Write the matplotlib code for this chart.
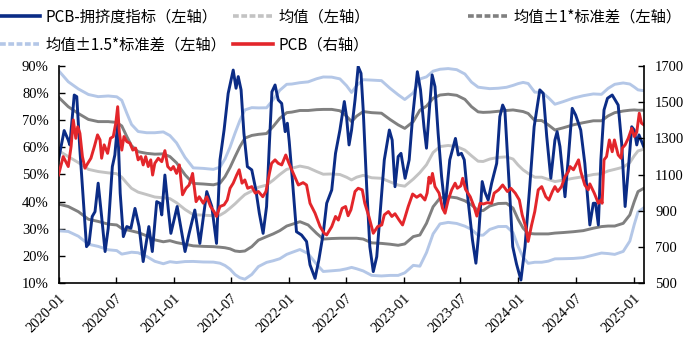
import matplotlib
matplotlib.use('Agg')
import matplotlib.pyplot as plt
from matplotlib.lines import Line2D
from matplotlib.font_manager import FontProperties
import numpy as np
import pandas as pd

plt.rcParams['font.family'] = ['Liberation Serif', 'DejaVu Serif']

# ---------------- data ----------------
crowd_dates = [
    '2020-01-01', '2020-01-19', '2020-02-01', '2020-02-06', '2020-02-20', '2020-02-28', '2020-03-09', '2020-03-20',
    '2020-03-30', '2020-04-07', '2020-04-17', '2020-04-26', '2020-05-06', '2020-05-17', '2020-05-28', '2020-06-07',
    '2020-06-20', '2020-06-28', '2020-07-07', '2020-07-15', '2020-07-25', '2020-08-05', '2020-08-18', '2020-08-31',
    '2020-09-13', '2020-09-26', '2020-10-07', '2020-10-14', '2020-10-25', '2020-11-08', '2020-11-18', '2020-11-24',
    '2020-12-04', '2020-12-15', '2020-12-23', '2021-01-12', '2021-02-06', '2021-02-19', '2021-03-09', '2021-03-25',
    '2021-04-16', '2021-05-02', '2021-05-17', '2021-05-28', '2021-06-10', '2021-06-23', '2021-07-09', '2021-07-18',
    '2021-07-25', '2021-08-03', '2021-08-12', '2021-08-23', '2021-09-06', '2021-09-19', '2021-09-30', '2021-10-12',
    '2021-10-23', '2021-11-01', '2021-11-09', '2021-11-19', '2021-11-29', '2021-12-10', '2021-12-21', '2021-12-28',
    '2022-01-03', '2022-01-13', '2022-01-26', '2022-02-11', '2022-02-27', '2022-03-10', '2022-03-26', '2022-04-07',
    '2022-04-21', '2022-05-02', '2022-05-18', '2022-05-30', '2022-06-13', '2022-06-27', '2022-07-04', '2022-07-12',
    '2022-07-20', '2022-07-31', '2022-08-10', '2022-08-19', '2022-08-26', '2022-09-06', '2022-09-16', '2022-09-27',
    '2022-10-08', '2022-10-18', '2022-11-01', '2022-11-17', '2022-11-26', '2022-12-05', '2022-12-15', '2022-12-24',
    '2023-01-06', '2023-01-19', '2023-01-30', '2023-02-14', '2023-02-24', '2023-03-07', '2023-03-15', '2023-03-24',
    '2023-04-02', '2023-04-11', '2023-04-21', '2023-05-02', '2023-05-13', '2023-05-28', '2023-06-15', '2023-06-24',
    '2023-07-04', '2023-07-13', '2023-07-25', '2023-08-08', '2023-08-19', '2023-08-28', '2023-09-08', '2023-09-16',
    '2023-09-27', '2023-10-08', '2023-10-24', '2023-11-03', '2023-11-12', '2023-11-19', '2023-11-30', '2023-12-14',
    '2023-12-26', '2024-01-09', '2024-01-22', '2024-02-06', '2024-02-20', '2024-03-09', '2024-03-20', '2024-03-31',
    '2024-04-13', '2024-04-26', '2024-05-03', '2024-05-12', '2024-05-28', '2024-06-08', '2024-06-20', '2024-07-01',
    '2024-07-17', '2024-07-30', '2024-08-15', '2024-08-26', '2024-09-02', '2024-09-11', '2024-09-19', '2024-09-29',
    '2024-10-10', '2024-10-25', '2024-11-13', '2024-11-24', '2024-12-05', '2024-12-15', '2024-12-26', '2025-01-03',
    '2025-01-11', '2025-01-18', '2025-02-02',
]
crowd_values = [
    55.4, 66.2, 62.7, 60.9, 79.3, 78.7, 59.0, 40.6,
    23.4, 24.6, 34.5, 36.3, 46.8, 34.5, 21.6, 30.2,
    52.9, 57.2, 68.9, 43.1, 27.1, 30.8, 30.2, 37.5,
    30.8, 17.9, 25.9, 30.8, 21.6, 40.0, 39.4, 35.1,
    49.8, 36.9, 28.3, 38.2, 21.6, 28.3, 36.9, 24.6,
    43.7, 38.2, 24.6, 55.4, 66.4, 79.9, 88.5, 81.8,
    86.1, 81.2, 65.2, 52.9, 51.7, 44.3, 35.7, 28.3,
    38.2, 61.5, 80.5, 83.0, 77.5, 76.2, 65.8, 68.9,
    62.1, 48.0, 28.9, 27.7, 25.3, 16.7, 11.7, 18.5,
    28.3, 39.4, 44.3, 57.8, 66.4, 76.9, 71.3, 60.9,
    66.4, 77.5, 89.8, 87.3, 73.8, 45.5, 23.4, 14.2,
    19.7, 34.5, 55.4, 66.4, 62.7, 45.5, 56.6, 57.8,
    48.6, 55.4, 71.3, 87.9, 81.2, 67.6, 59.7, 73.8,
    86.7, 82.4, 65.2, 49.2, 37.5, 55.4, 63.3, 57.2,
    57.8, 55.4, 40.6, 25.9, 17.3, 28.3, 47.4, 43.7,
    40.6, 46.8, 54.1, 71.3, 75.6, 73.8, 51.7, 23.4,
    17.0, 11.1, 23.4, 45.5, 67.6, 81.2, 79.9, 64.0,
    48.6, 62.7, 65.8, 60.3, 41.8, 56.6, 74.4, 71.9,
    66.4, 54.1, 31.4, 39.4, 39.4, 31.4, 55.4, 73.8,
    78.1, 79.3, 75.6, 61.5, 38.2, 51.7, 67.6, 66.4,
    60.9, 64.6, 60.3,
]

pcb_dates = [
    '2020-01-01', '2020-01-16', '2020-02-01', '2020-02-10', '2020-02-17', '2020-02-25', '2020-03-02', '2020-03-09',
    '2020-03-17', '2020-03-25', '2020-04-03', '2020-04-13', '2020-04-24', '2020-05-04', '2020-05-12', '2020-05-17',
    '2020-05-25', '2020-06-05', '2020-06-14', '2020-06-23', '2020-07-01', '2020-07-07', '2020-07-12', '2020-07-20',
    '2020-07-27', '2020-08-05', '2020-08-15', '2020-08-24', '2020-09-02', '2020-09-10', '2020-09-19', '2020-09-26',
    '2020-10-04', '2020-10-12', '2020-10-20', '2020-10-26', '2020-11-02', '2020-11-13', '2020-11-24', '2020-12-04',
    '2020-12-13', '2020-12-23', '2020-12-31', '2021-01-10', '2021-01-19', '2021-01-29', '2021-02-09', '2021-02-19',
    '2021-03-02', '2021-03-13', '2021-03-23', '2021-04-05', '2021-04-16', '2021-04-28', '2021-05-09', '2021-05-17',
    '2021-05-28', '2021-06-10', '2021-06-20', '2021-06-29', '2021-07-09', '2021-07-20', '2021-07-28', '2021-08-06',
    '2021-08-15', '2021-08-24', '2021-09-06', '2021-09-17', '2021-09-27', '2021-10-11', '2021-10-21', '2021-11-01',
    '2021-11-08', '2021-11-19', '2021-11-29', '2021-12-10', '2021-12-23', '2022-01-02', '2022-01-16', '2022-02-01',
    '2022-02-16', '2022-02-27', '2022-03-10', '2022-03-26', '2022-04-11', '2022-04-24', '2022-05-02', '2022-05-18',
    '2022-05-30', '2022-06-08', '2022-06-20', '2022-07-01', '2022-07-09', '2022-07-18', '2022-07-31', '2022-08-10',
    '2022-08-23', '2022-08-31', '2022-09-13', '2022-09-27', '2022-10-11', '2022-10-24', '2022-11-01', '2022-11-14',
    '2022-11-25', '2022-12-05', '2022-12-18', '2022-12-29', '2023-01-05', '2023-01-16', '2023-01-30', '2023-02-12',
    '2023-02-24', '2023-03-10', '2023-03-17', '2023-03-23', '2023-03-28', '2023-04-03', '2023-04-11', '2023-04-24',
    '2023-05-05', '2023-05-13', '2023-05-23', '2023-06-03', '2023-06-14', '2023-06-21', '2023-07-02', '2023-07-08',
    '2023-07-17', '2023-08-01', '2023-08-13', '2023-08-22', '2023-09-01', '2023-09-12', '2023-09-24', '2023-10-08',
    '2023-10-16', '2023-10-30', '2023-11-12', '2023-11-27', '2023-12-08', '2023-12-22', '2024-01-04', '2024-01-13',
    '2024-01-24', '2024-02-01', '2024-02-12', '2024-02-22', '2024-03-04', '2024-03-15', '2024-03-28', '2024-04-07',
    '2024-04-18', '2024-04-26', '2024-05-05', '2024-05-17', '2024-05-28', '2024-06-08', '2024-06-13', '2024-06-24',
    '2024-07-10', '2024-07-17', '2024-07-30', '2024-08-10', '2024-08-15', '2024-08-29', '2024-09-11', '2024-09-19',
    '2024-09-23', '2024-09-29', '2024-10-07', '2024-10-16', '2024-10-25', '2024-11-01', '2024-11-13', '2024-11-22',
    '2024-11-26', '2024-12-05', '2024-12-15', '2024-12-26', '2025-01-03', '2025-01-11', '2025-01-19', '2025-01-26',
    '2025-02-02',
]
pcb_values = [
    1097, 1199, 1144, 1255, 1402, 1300, 1364, 1328,
    1199, 1135, 1162, 1190, 1255, 1319, 1291, 1190,
    1264, 1217, 1300, 1310, 1384, 1475, 1337, 1235,
    1310, 1282, 1273, 1235, 1246, 1181, 1199, 1153,
    1199, 1144, 1181, 1097, 1162, 1190, 1171, 1232,
    1144, 1126, 1144, 1106, 1153, 988, 1024, 1042,
    1106, 950, 977, 941, 977, 923, 895, 868,
    923, 932, 959, 1024, 1052, 1097, 1126, 1052,
    1070, 1024, 1033, 997, 1006, 977, 1006, 1106,
    1162, 1181, 1162, 1153, 1208, 1162, 1106, 1042,
    1055, 1042, 941, 886, 812, 775, 766, 812,
    868, 848, 913, 923, 872, 905, 1006, 1024,
    1015, 941, 868, 775, 812, 821, 877, 895,
    868, 883, 848, 821, 859, 923, 992, 974,
    988, 959, 997, 1085, 1052, 1106, 1033, 997,
    913, 886, 959, 1015, 1052, 1024, 1037, 1079,
    1018, 977, 923, 870, 941, 937, 944, 941,
    997, 1015, 1042, 1006, 1024, 997, 959, 877,
    812, 730, 821, 895, 1015, 1033, 977, 959,
    1006, 1033, 1006, 1033, 1088, 1117, 1144, 1126,
    1181, 1117, 1042, 1015, 1048, 997, 941, 959,
    941, 1181, 1199, 1291, 1226, 1291, 1208, 1190,
    1246, 1264, 1300, 1355, 1310, 1334, 1439, 1384,
    1375,
]

band_dates = [
    '2020-01-01', '2020-02-01', '2020-03-04', '2020-04-05', '2020-05-06', '2020-06-07', '2020-07-04', '2020-07-20',
    '2020-08-05', '2020-08-20', '2020-09-10', '2020-10-07', '2020-11-02', '2020-11-29', '2020-12-20', '2021-01-10',
    '2021-02-06', '2021-03-04', '2021-04-05', '2021-05-07', '2021-05-28', '2021-06-13', '2021-06-29', '2021-07-15',
    '2021-07-30', '2021-08-15', '2021-09-06', '2021-09-27', '2021-10-23', '2021-11-13', '2021-12-04', '2021-12-26',
    '2022-01-11', '2022-02-06', '2022-03-04', '2022-03-31', '2022-04-21', '2022-05-18', '2022-06-13', '2022-07-04',
    '2022-07-20', '2022-08-05', '2022-08-26', '2022-09-22', '2022-10-23', '2022-11-19', '2022-12-15', '2023-01-05',
    '2023-02-01', '2023-02-22', '2023-03-15', '2023-04-05', '2023-04-27', '2023-05-23', '2023-06-19', '2023-07-15',
    '2023-08-05', '2023-08-26', '2023-09-11', '2023-10-02', '2023-10-29', '2023-11-24', '2023-12-15', '2023-12-31',
    '2024-01-16', '2024-02-01', '2024-02-22', '2024-03-15', '2024-04-05', '2024-04-26', '2024-05-22', '2024-06-23',
    '2024-07-25', '2024-08-26', '2024-09-21', '2024-10-12', '2024-11-02', '2024-11-29', '2024-12-20', '2025-01-03',
    '2025-01-15', '2025-02-02',
]
band_mean = [
    58.8, 56.6, 54.4, 51.9, 51.1, 50.6, 50.3, 49.0,
    46.8, 44.9, 43.5, 42.6, 41.7, 41.4, 41.1, 39.6,
    37.1, 35.2, 35.0, 34.8, 35.0, 36.1, 37.6, 39.2,
    40.9, 42.6, 43.9, 45.3, 46.1, 47.9, 50.0, 51.9,
    52.3, 53.1, 52.5, 51.1, 50.1, 50.2, 50.0, 49.0,
    48.0, 49.0, 49.7, 48.8, 48.6, 47.3, 46.1, 45.7,
    48.3, 50.7, 53.6, 58.1, 60.3, 60.7, 60.3, 59.0,
    56.9, 54.9, 54.8, 55.7, 56.3, 56.5, 55.7, 53.5,
    51.7, 50.4, 49.0, 49.0, 48.2, 47.4, 47.9, 48.6,
    49.2, 50.0, 50.3, 51.3, 51.9, 52.7, 54.4, 56.9,
    58.7, 59.3,
]
band_std = [
    19.7, 18.4, 18.1, 18.4, 18.4, 18.9, 18.9, 18.9,
    17.2, 15.7, 14.9, 15.2, 15.8, 16.2, 15.5, 14.7,
    12.8, 11.5, 11.5, 11.4, 11.8, 13.1, 15.0, 17.4,
    19.3, 20.8, 20.5, 19.5, 19.0, 19.8, 20.7, 20.9,
    20.7, 20.5, 21.1, 22.8, 23.9, 23.8, 23.5, 22.5,
    21.5, 22.5, 23.5, 24.0, 24.0, 23.0, 22.2, 21.3,
    21.2, 23.0, 21.6, 20.0, 19.0, 18.9, 18.9, 18.7,
    18.1, 18.2, 18.1, 17.3, 17.0, 17.1, 18.1, 20.0,
    21.5, 22.1, 20.9, 20.9, 20.1, 19.0, 19.3, 19.7,
    19.9, 19.8, 19.5, 20.3, 20.9, 20.7, 19.3, 16.9,
    15.0, 14.4,
]

left_ticks = [10, 20, 30, 40, 50, 60, 70, 80, 90]
right_ticks = [500, 700, 900, 1100, 1300, 1500, 1700]
x_tick_dates = ['2020-01-01', '2020-07-01', '2021-01-01', '2021-07-01', '2022-01-01', '2022-07-01',
                '2023-01-01', '2023-07-01', '2024-01-01', '2024-07-01', '2025-01-01']
x_tick_labels = ['2020-01', '2020-07', '2021-01', '2021-07', '2022-01', '2022-07',
                 '2023-01', '2023-07', '2024-01', '2024-07', '2025-01']

legend_labels = ['PCB-拥挤度指标（左轴）', '均值（左轴）', '均值±1*标准差（左轴）',
                 '均值±1.5*标准差（左轴）', 'PCB（右轴）']

# ---------------- styling ----------------
C_NAVY = '#0B2C86'
C_RED = '#E3262B'
C_DARK = '#808080'
C_LIGHT = '#C3C3C3'
C_LBLUE = '#B4C7E7'
LW = 2.1

W, H = 698, 363
fig = plt.figure(figsize=(W / 100, H / 100), dpi=100)
fig.patch.set_facecolor('white')
ax_l, ax_r, ax_t, ax_b = 58.5, 644.0, 66.0, 283.0
ax = fig.add_axes([ax_l / W, 1 - ax_b / H, (ax_r - ax_l) / W, (ax_b - ax_t) / H])

d_band = pd.to_datetime(band_dates)
m = np.array(band_mean)
s = np.array(band_std)
d_crowd = pd.to_datetime(crowd_dates)
d_pcb = pd.to_datetime(pcb_dates)

ax.plot(d_band, m + 1.5 * s, color=C_LBLUE, lw=LW, solid_joinstyle='round')
ax.plot(d_band, m - 1.5 * s, color=C_LBLUE, lw=LW, solid_joinstyle='round')
ax.plot(d_band, m + s, color=C_DARK, lw=LW, solid_joinstyle='round')
ax.plot(d_band, m - s, color=C_DARK, lw=LW, solid_joinstyle='round')
ax.plot(d_band, m, color=C_LIGHT, lw=LW, solid_joinstyle='round')
ax.plot(d_crowd, crowd_values, color=C_NAVY, lw=LW, solid_joinstyle='round')

ax2 = ax.twinx()
ax2.plot(d_pcb, pcb_values, color=C_RED, lw=LW, solid_joinstyle='round')

ax.set_ylim(10, 90)
ax2.set_ylim(500, 1700)
ax.set_xlim(pd.Timestamp('2020-01-01'), pd.Timestamp('2025-02-03'))

ax.tick_params(axis='both', direction='in', length=4, width=1.0, color='black', labelsize=10.5)
ax.tick_params(axis='y', pad=7)
ax.tick_params(axis='x', pad=6)
ax2.tick_params(axis='y', direction='in', length=4, width=1.0, pad=8, color='black', labelsize=10.5)

ax.set_yticks(left_ticks)
ax.set_yticklabels([f'{v}%' for v in left_ticks])
ax2.set_yticks(right_ticks)
ax2.set_yticklabels([str(v) for v in right_ticks])
ax.set_xticks(pd.to_datetime(x_tick_dates))
ax.set_xticklabels(x_tick_labels, rotation=45, ha='right', va='top', rotation_mode='anchor')

for a in (ax, ax2):
    a.spines['top'].set_visible(False)
    a.set_facecolor('none')
ax.spines['right'].set_visible(False)
ax2.spines['left'].set_visible(False)
ax2.spines['bottom'].set_visible(False)
ax.spines['left'].set_linewidth(1.2)
ax.spines['bottom'].set_linewidth(1.2)
ax2.spines['right'].set_linewidth(1.2)

# ---------------- legend ----------------
fp = FontProperties(family=['Noto Sans CJK SC', 'DejaVu Sans'], size=11)
handles = [
    Line2D([], [], color=C_NAVY, lw=2.6),
    Line2D([], [], color=C_LIGHT, lw=2.6, dashes=(1.6, 0.7)),
    Line2D([], [], color=C_DARK, lw=2.6, dashes=(1.6, 0.7)),
    Line2D([], [], color=C_LBLUE, lw=2.6, dashes=(1.6, 0.7)),
    Line2D([], [], color=C_RED, lw=2.6),
]
leg_pos = [(0, 17), (233, 17), (468, 17), (0, 45), (233, 45)]
for h, lab, (px, py) in zip(handles, legend_labels, leg_pos):
    fig.legend(handles=[h], labels=[lab], loc='center left',
               bbox_to_anchor=(px / W, 1 - py / H), frameon=False, prop=fp,
               handlelength=2.6, handletextpad=0.35, borderpad=0, borderaxespad=0)

fig.savefig('out.png', dpi=100, facecolor='white')
